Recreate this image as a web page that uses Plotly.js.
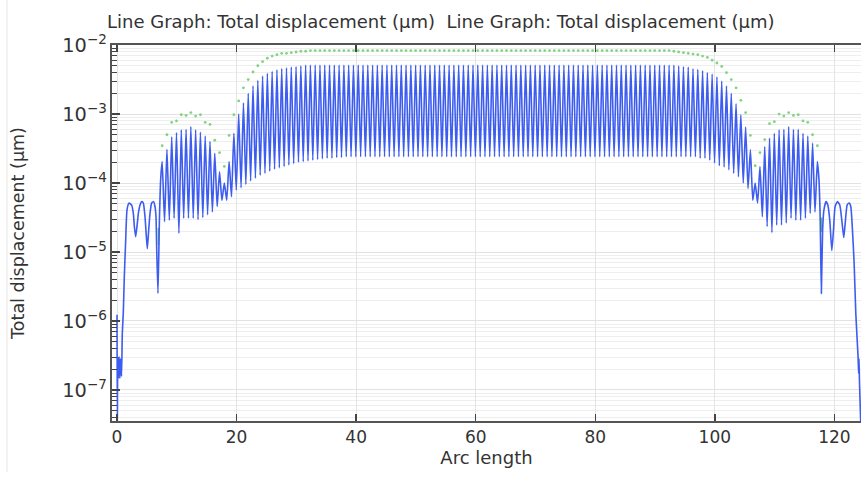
<!DOCTYPE html>
<html>
<head>
<meta charset="utf-8">
<script src="https://cdn.plot.ly/plotly-3.0.1.min.js"></script>
<style>html,body{margin:0;padding:0;background:#fff;}#chart{width:861px;height:477px;}</style>
</head>
<body>
<div id="chart"></div>
<script>
// ---- Data ----
const chartTitle = "Line Graph: Total displacement (µm)  Line Graph: Total displacement (µm)";
const xTitle = "Arc length";
const yTitle = "Total displacement (µm)";

// left end of the curve (before the oscillating part)
const startX = [0.00, 0.05, 0.12, 0.22, 0.35, 0.47, 0.60, 0.75, 0.89, 1.05, 1.22, 1.45, 1.67, 2.01, 2.45, 2.73, 2.90, 3.12, 3.40, 3.57, 3.85, 4.13, 4.40, 4.68, 4.91, 5.07, 5.30, 5.52, 5.80, 6.13, 6.35, 6.52, 6.63, 6.85, 7.10, 7.30];
const startY = [1.23e-6, 2.5e-8, 3.02e-7, 1.48e-7, 3.02e-7, 1.48e-7, 2.82e-7, 1.58e-7, 6.76e-7, 1.32e-6, 4.37e-6, 1.48e-5, 4.07e-5, 5.13e-5, 4.79e-5, 3.63e-5, 2.34e-5, 1.66e-5, 2.63e-5, 3.63e-5, 4.79e-5, 5.37e-5, 5.13e-5, 3.24e-5, 1.66e-5, 1.12e-5, 2.09e-5, 3.63e-5, 5.13e-5, 5.37e-5, 4.57e-5, 3.24e-5, 1.20e-5, 2.51e-6, 3.16e-5, 1.12e-4];

// oscillation maxima
const peakX = [7.55, 8.35, 9.15, 9.95, 10.75, 11.55, 12.35, 13.15, 13.95, 14.75,
  15.55, 16.35, 17.15, 17.95, 18.75, 19.55, 20.35, 21.15, 21.95, 22.75,
  23.55, 24.35, 25.15, 25.95, 26.75, 27.55, 28.35, 29.15, 29.95, 30.75,
  31.55, 32.35, 33.15, 33.95, 34.75, 35.55, 36.35, 37.15, 37.95, 38.75,
  39.55, 40.35, 41.15, 41.95, 42.75, 43.55, 44.35, 45.15, 45.95, 46.75,
  47.55, 48.35, 49.15, 49.95, 50.75, 51.55, 52.35, 53.15, 53.95, 54.75,
  55.55, 56.35, 57.15, 57.95, 58.75, 59.55, 60.35, 61.15, 61.95, 62.75,
  63.55, 64.35, 65.15, 65.95, 66.75, 67.55, 68.35, 69.15, 69.95, 70.75,
  71.55, 72.35, 73.15, 73.95, 74.75, 75.55, 76.35, 77.15, 77.95, 78.75,
  79.55, 80.35, 81.15, 81.95, 82.75, 83.55, 84.35, 85.15, 85.95, 86.75,
  87.55, 88.35, 89.15, 89.95, 90.75, 91.55, 92.35, 93.15, 93.95, 94.75,
  95.55, 96.35, 97.15, 97.95, 98.75, 99.55, 100.35, 101.15, 101.95, 102.75,
  103.55, 104.35, 105.15, 105.95, 106.75, 107.55, 108.35, 109.15, 109.95, 110.75,
  111.55, 112.35, 113.15, 113.95, 114.75, 115.55, 116.35, 117.15];
const peakY = [2.04e-4, 3.09e-4, 4.68e-4, 5.37e-4, 5.89e-4, 6.03e-4, 6.61e-4, 5.89e-4, 5.50e-4, 4.79e-4,
  3.98e-4, 2.69e-4, 1.45e-4, 1.00e-4, 2.04e-4, 5.25e-4, 1.00e-3, 1.45e-3, 2.00e-3, 2.57e-3,
  3.09e-3, 3.55e-3, 3.89e-3, 4.17e-3, 4.37e-3, 4.57e-3, 4.68e-3, 4.79e-3, 4.90e-3, 5.01e-3,
  5.13e-3, 5.13e-3, 5.13e-3, 5.13e-3, 5.13e-3, 5.13e-3, 5.13e-3, 5.13e-3, 5.13e-3, 5.13e-3,
  5.13e-3, 5.13e-3, 5.13e-3, 5.13e-3, 5.13e-3, 5.13e-3, 5.13e-3, 5.13e-3, 5.13e-3, 5.13e-3,
  5.13e-3, 5.13e-3, 5.13e-3, 5.13e-3, 5.13e-3, 5.13e-3, 5.13e-3, 5.13e-3, 5.13e-3, 5.13e-3,
  5.13e-3, 5.13e-3, 5.13e-3, 5.13e-3, 5.13e-3, 5.13e-3, 5.13e-3, 5.13e-3, 5.13e-3, 5.13e-3,
  5.13e-3, 5.13e-3, 5.13e-3, 5.13e-3, 5.13e-3, 5.13e-3, 5.13e-3, 5.13e-3, 5.13e-3, 5.13e-3,
  5.13e-3, 5.13e-3, 5.13e-3, 5.13e-3, 5.13e-3, 5.13e-3, 5.13e-3, 5.13e-3, 5.13e-3, 5.13e-3,
  5.13e-3, 5.13e-3, 5.13e-3, 5.13e-3, 5.13e-3, 5.13e-3, 5.13e-3, 5.13e-3, 5.13e-3, 5.13e-3,
  5.13e-3, 5.13e-3, 5.13e-3, 5.13e-3, 5.13e-3, 5.13e-3, 5.13e-3, 5.13e-3, 5.01e-3, 4.90e-3,
  4.79e-3, 4.57e-3, 4.47e-3, 4.27e-3, 3.98e-3, 3.80e-3, 3.47e-3, 3.02e-3, 2.57e-3, 2.00e-3,
  1.41e-3, 9.77e-4, 6.46e-4, 3.02e-4, 1.00e-4, 1.74e-4, 3.39e-4, 4.47e-4, 5.25e-4, 5.89e-4,
  6.03e-4, 6.61e-4, 6.03e-4, 6.03e-4, 5.25e-4, 4.79e-4, 3.80e-4, 2.04e-4];

// oscillation minima (one after each maximum, except the last)
const troughX = [7.95, 8.75, 9.55, 10.35, 11.15, 11.95, 12.75, 13.55, 14.35, 15.15,
  15.95, 16.75, 17.55, 18.35, 19.15, 19.95, 20.75, 21.55, 22.35, 23.15,
  23.95, 24.75, 25.55, 26.35, 27.15, 27.95, 28.75, 29.55, 30.35, 31.15,
  31.95, 32.75, 33.55, 34.35, 35.15, 35.95, 36.75, 37.55, 38.35, 39.15,
  39.95, 40.75, 41.55, 42.35, 43.15, 43.95, 44.75, 45.55, 46.35, 47.15,
  47.95, 48.75, 49.55, 50.35, 51.15, 51.95, 52.75, 53.55, 54.35, 55.15,
  55.95, 56.75, 57.55, 58.35, 59.15, 59.95, 60.75, 61.55, 62.35, 63.15,
  63.95, 64.75, 65.55, 66.35, 67.15, 67.95, 68.75, 69.55, 70.35, 71.15,
  71.95, 72.75, 73.55, 74.35, 75.15, 75.95, 76.75, 77.55, 78.35, 79.15,
  79.95, 80.75, 81.55, 82.35, 83.15, 83.95, 84.75, 85.55, 86.35, 87.15,
  87.95, 88.75, 89.55, 90.35, 91.15, 91.95, 92.75, 93.55, 94.35, 95.15,
  95.95, 96.75, 97.55, 98.35, 99.15, 99.95, 100.75, 101.55, 102.35, 103.15,
  103.95, 104.75, 105.55, 106.35, 107.15, 107.95, 108.75, 109.55, 110.35, 111.15,
  111.95, 112.75, 113.55, 114.35, 115.15, 115.95, 116.75];
const troughY = [2.75e-5, 2.88e-5, 3.09e-5, 1.86e-5, 3.09e-5, 3.09e-5, 3.09e-5, 2.95e-5, 3.16e-5, 3.47e-5,
  3.80e-5, 4.57e-5, 5.62e-5, 5.62e-5, 6.31e-5, 7.94e-5, 8.51e-5, 9.55e-5, 1.07e-4, 1.17e-4,
  1.29e-4, 1.38e-4, 1.48e-4, 1.58e-4, 1.66e-4, 1.74e-4, 1.82e-4, 1.91e-4, 2.00e-4, 2.04e-4,
  2.09e-4, 2.14e-4, 2.19e-4, 2.24e-4, 2.29e-4, 2.29e-4, 2.34e-4, 2.34e-4, 2.40e-4, 2.40e-4,
  2.40e-4, 2.40e-4, 2.40e-4, 2.40e-4, 2.40e-4, 2.40e-4, 2.40e-4, 2.40e-4, 2.40e-4, 2.40e-4,
  2.40e-4, 2.40e-4, 2.40e-4, 2.40e-4, 2.40e-4, 2.40e-4, 2.40e-4, 2.40e-4, 2.40e-4, 2.40e-4,
  2.40e-4, 2.40e-4, 2.40e-4, 2.40e-4, 2.40e-4, 2.40e-4, 2.40e-4, 2.40e-4, 2.40e-4, 2.40e-4,
  2.40e-4, 2.40e-4, 2.40e-4, 2.40e-4, 2.40e-4, 2.40e-4, 2.40e-4, 2.40e-4, 2.40e-4, 2.40e-4,
  2.40e-4, 2.40e-4, 2.40e-4, 2.40e-4, 2.40e-4, 2.40e-4, 2.40e-4, 2.40e-4, 2.40e-4, 2.40e-4,
  2.40e-4, 2.40e-4, 2.40e-4, 2.40e-4, 2.40e-4, 2.40e-4, 2.40e-4, 2.40e-4, 2.40e-4, 2.40e-4,
  2.40e-4, 2.40e-4, 2.40e-4, 2.40e-4, 2.40e-4, 2.40e-4, 2.40e-4, 2.40e-4, 2.40e-4, 2.40e-4,
  2.40e-4, 2.40e-4, 2.29e-4, 2.29e-4, 2.14e-4, 1.95e-4, 1.78e-4, 1.70e-4, 1.55e-4, 1.38e-4,
  1.23e-4, 1.00e-4, 8.32e-5, 5.62e-5, 5.13e-5, 3.24e-5, 2.34e-5, 1.91e-5, 2.45e-5, 2.45e-5,
  2.63e-5, 3.09e-5, 2.88e-5, 2.88e-5, 3.09e-5, 3.63e-5, 3.80e-5];

// right end of the curve (after the oscillating part)
const endX = [117.42, 117.62, 117.82, 118.03, 118.25, 118.60, 118.90, 119.23, 119.57, 119.85, 120.12, 120.51, 120.90, 121.29, 121.57, 121.85, 122.13, 122.46, 122.74, 123.02, 123.30, 123.58, 123.96, 124.05, 124.12, 124.20, 124.45];
const endY = [1.12e-4, 3.16e-5, 2.51e-6, 2.09e-5, 4.07e-5, 5.37e-5, 4.79e-5, 2.88e-5, 1.05e-5, 2.09e-5, 4.57e-5, 5.37e-5, 4.79e-5, 2.63e-5, 1.62e-5, 2.88e-5, 4.79e-5, 5.13e-5, 4.57e-5, 2.09e-5, 6.92e-6, 1.29e-6, 3.02e-7, 1.74e-7, 2.82e-7, 1.26e-7, 2.5e-8];

// green dotted envelope (one point per oscillation, at the maxima positions)
const envX = peakX;
const envY = [3.47e-4, 5.01e-4, 7.59e-4, 7.94e-4, 9.77e-4, 9.55e-4, 1.05e-3, 9.33e-4, 9.77e-4, 7.59e-4,
  7.08e-4, 4.17e-4, 2.75e-4, 1.74e-4, 4.90e-4, 9.77e-4, 1.55e-3, 2.40e-3, 3.16e-3, 4.07e-3,
  5.01e-3, 5.75e-3, 6.46e-3, 6.92e-3, 7.24e-3, 7.59e-3, 7.59e-3, 7.76e-3, 7.94e-3, 8.13e-3,
  8.13e-3, 8.32e-3, 8.32e-3, 8.32e-3, 8.32e-3, 8.32e-3, 8.32e-3, 8.32e-3, 8.32e-3, 8.32e-3,
  8.32e-3, 8.32e-3, 8.32e-3, 8.32e-3, 8.32e-3, 8.32e-3, 8.32e-3, 8.32e-3, 8.32e-3, 8.32e-3,
  8.32e-3, 8.32e-3, 8.32e-3, 8.32e-3, 8.32e-3, 8.32e-3, 8.32e-3, 8.32e-3, 8.32e-3, 8.32e-3,
  8.32e-3, 8.32e-3, 8.32e-3, 8.32e-3, 8.32e-3, 8.32e-3, 8.32e-3, 8.32e-3, 8.32e-3, 8.32e-3,
  8.32e-3, 8.32e-3, 8.32e-3, 8.32e-3, 8.32e-3, 8.32e-3, 8.32e-3, 8.32e-3, 8.32e-3, 8.32e-3,
  8.32e-3, 8.32e-3, 8.32e-3, 8.32e-3, 8.32e-3, 8.32e-3, 8.32e-3, 8.32e-3, 8.32e-3, 8.32e-3,
  8.32e-3, 8.32e-3, 8.32e-3, 8.32e-3, 8.32e-3, 8.32e-3, 8.32e-3, 8.32e-3, 8.32e-3, 8.32e-3,
  8.32e-3, 8.32e-3, 8.32e-3, 8.32e-3, 8.32e-3, 8.32e-3, 8.32e-3, 8.13e-3, 7.94e-3, 7.76e-3,
  7.59e-3, 7.41e-3, 7.24e-3, 6.92e-3, 6.61e-3, 6.03e-3, 5.50e-3, 4.90e-3, 3.98e-3, 3.16e-3,
  2.40e-3, 1.58e-3, 1.05e-3, 4.90e-4, 1.78e-4, 2.75e-4, 4.27e-4, 7.24e-4, 7.76e-4, 1.00e-3,
  9.33e-4, 1.05e-3, 9.55e-4, 9.77e-4, 7.94e-4, 7.59e-4, 5.01e-4, 3.47e-4];

// short solid green pieces visible beside the two deep dips
const envSegX = [6.93, 6.93, null, 117.87, 117.87];
const envSegY = [2.24e-5, 1.26e-5, null, 3.16e-5, 1.95e-5];

// ---- assemble the blue curve from the read points ----
const curveX = startX.slice(), curveY = startY.slice();
for (let i = 0; i < peakX.length; i++) {
  curveX.push(peakX[i]); curveY.push(peakY[i]);
  if (i < troughX.length) { curveX.push(troughX[i]); curveY.push(troughY[i]); }
}
endX.forEach((v, i) => { curveX.push(v); curveY.push(endY[i]); });

const blue = '#3d5cf0';
const green = '#80d480';

const traces = [
  { x: envX, y: envY, type: 'scatter', mode: 'markers', marker: { color: green, size: 2.8, line: { width: 0 } }, hoverinfo: 'skip' },
  { x: envSegX, y: envSegY, type: 'scatter', mode: 'lines', line: { color: '#5cc45c', width: 1.5 }, connectgaps: false, hoverinfo: 'skip' },
  { x: curveX, y: curveY, type: 'scatter', mode: 'lines', line: { color: blue, width: 1.6, shape: 'spline', smoothing: 0.5 }, hoverinfo: 'skip' }
];

const axisLine = '#555555';
const layout = {
  width: 861, height: 477,
  margin: { l: 112, r: 0, t: 45, b: 56, pad: 0 },
  paper_bgcolor: '#ffffff', plot_bgcolor: '#ffffff',
  showlegend: false,
  font: { family: 'DejaVu Sans, sans-serif', size: 17, color: '#333333' },
  title: {
    text: chartTitle,
    font: { family: 'DejaVu Sans, sans-serif', size: 18, color: '#333333' },
    xref: 'container', x: 107 / 861, xanchor: 'left',
    yref: 'container', y: 1 - 22 / 477, yanchor: 'middle'
  },
  xaxis: {
    type: 'linear', range: [-0.84, 124.45], tick0: 0, dtick: 20,
    ticks: 'inside', ticklen: 7, tickwidth: 1.5, tickcolor: '#444',
    showline: true, linecolor: axisLine, linewidth: 2, mirror: 'ticks',
    showgrid: true, gridcolor: '#e4e4e4', gridwidth: 1, zeroline: false,
    tickfont: { size: 17, color: '#333' }, automargin: false,
    title: { text: xTitle, font: { size: 18, color: '#333' }, standoff: 4 }
  },
  yaxis: {
    type: 'log', range: [-7.45, -1.999], dtick: 1, exponentformat: 'power',
    ticks: 'inside', ticklen: 8, tickwidth: 1.5, tickcolor: '#444',
    showline: true, linecolor: axisLine, linewidth: 2, mirror: false,
    showgrid: true, gridcolor: '#e2e2e2', gridwidth: 1, zeroline: false,
    tickfont: { size: 15.5, color: '#333' }, automargin: false,
    minor: { dtick: 'D1', ticks: 'inside', ticklen: 5, tickwidth: 1, tickcolor: '#444', showgrid: true, gridcolor: '#eeeeee', gridwidth: 1 },
    title: { text: yTitle, font: { size: 17.5, color: '#333' }, standoff: 33 }
  },
  shapes: [
    { type: 'line', xref: 'paper', yref: 'paper', x0: (7 - 112) / 749, x1: (7 - 112) / 749, y0: (421 - 472) / 376, y1: 421 / 376, line: { color: '#e6e6e6', width: 1 } }
  ]
};

Plotly.newPlot('chart', traces, layout, { staticPlot: true, displayModeBar: false });
</script>
</body>
</html>
